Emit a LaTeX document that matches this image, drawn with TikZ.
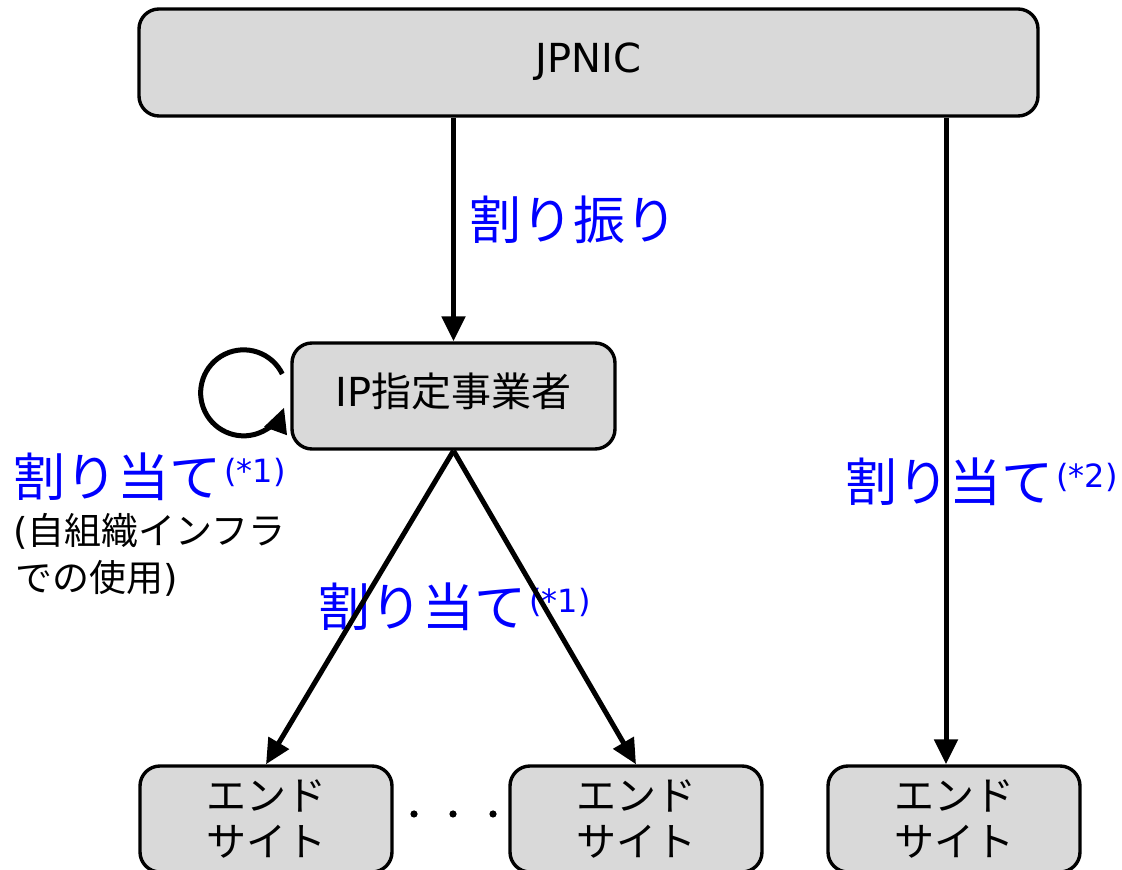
\documentclass[tikz,border=0pt]{standalone}
\usepackage{fontspec}
\setmainfont{Noto Sans CJK JP}
\newfontfamily\lat{DejaVu Sans}
\usetikzlibrary{arrows.meta}
\definecolor{boxgray}{RGB}{217,217,217}
\definecolor{lblue}{RGB}{0,0,255}
\newcommand\mysup[1]{\kern3pt\raisebox{14pt}{\fontsize{32}{32}\selectfont\lat #1}}
\begin{document}
\begin{tikzpicture}[x=1pt,y=1pt,
  box/.style={draw=black, line width=3.4pt, fill=boxgray, rounded corners=20pt, inner sep=0pt},
  arr/.style={line width=5pt, -{Triangle[length=25pt,width=23pt]}},
  lbl/.style={anchor=base west, inner sep=0pt, text=lblue, font=\fontsize{52}{52}\selectfont},
  note/.style={anchor=base west, inner sep=0pt, font=\fontsize{37}{37}\selectfont},
  site/.style={box, minimum width=252pt, minimum height=106pt, align=center, font=\fontsize{40}{46}\selectfont}]
\useasboundingbox (0,0) rectangle (1122,870);
% boxes
\node[box, minimum width=899pt, minimum height=107pt, font=\lat\fontsize{40}{40}\selectfont, text height=29pt, text depth=8pt] (jpnic) at (588.5,807.5) {JPNIC};
\node[box, minimum width=323pt, minimum height=106pt, font=\fontsize{40}{40}\selectfont, text height=30pt, text depth=8pt] (ip) at (453.5,474) {{\lat IP}指定事業者};
\node[site] (e1) at (266,51) {エンド\\サイト};
\node[site] (e2) at (636,51) {エンド\\サイト};
\node[site] (e3) at (954,51) {エンド\\サイト};
% labels
\node[lbl] (l1) at (469,630) {割り振り};
\node[lbl] (l2) at (13,373) {割り当て\mysup{(*1)}};
\node[note] (n1) at (13,325) {{\lat(}自組織インフラ};
\node[note] (n2) at (15,278) {での使用{\lat)}};
\node[lbl] (l3) at (318,243) {割り当て\mysup{(*1)}};
\node[lbl] (l4) at (845,368) {割り当て\mysup{(*2)}};
% dots
\foreach \x in {414,453,493} \fill (\x,56) circle (3.6pt);
% connectors
\coordinate (r) at ([xshift=-8pt]e3.north);
\draw[arr] (jpnic.south -| ip.north) -- (ip.north);
\draw[arr] (jpnic.south -| r) -- (r);
\draw[arr] (ip.south) -- (e1.north);
\draw[arr] (ip.south) -- (e2.north);
\draw[arr] ([shift={(-8pt,22pt)}]ip.west) arc[start angle=26, end angle=340, radius=43pt];
\end{tikzpicture}
\end{document}
